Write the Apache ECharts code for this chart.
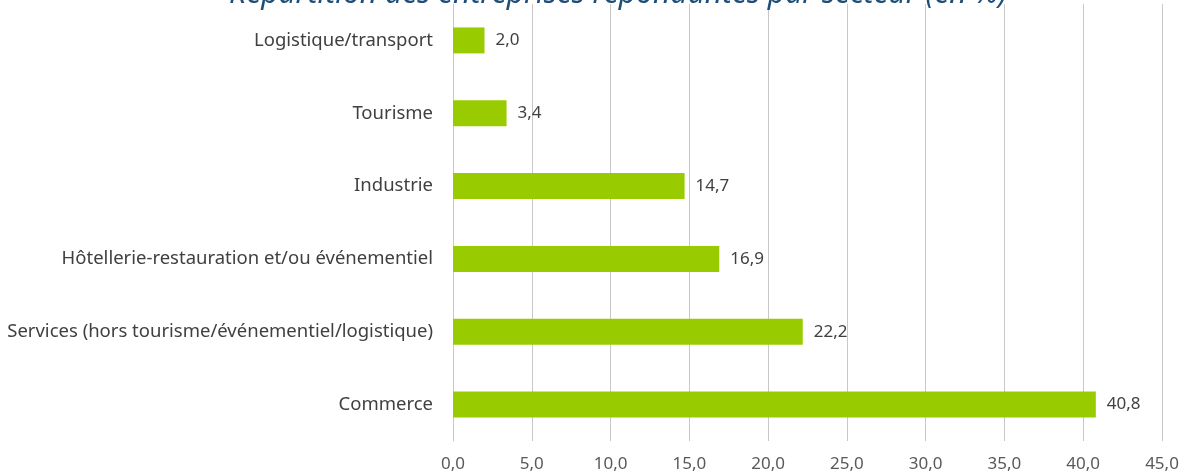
<!DOCTYPE html>
<html><head><meta charset="utf-8">
<script src="https://cdn.jsdelivr.net/npm/echarts@6/dist/echarts.min.js"></script>
<style>html,body{margin:0;padding:0;background:#fff}#c{width:1184px;height:472px}</style>
</head><body><div id="c"></div>
<script>
const categories = ["Commerce","Services (hors tourisme/événementiel/logistique)","Hôtellerie-restauration et/ou événementiel","Industrie","Tourisme","Logistique/transport"];
const values = [40.8, 22.2, 16.9, 14.7, 3.4, 2.0];
const titleText = "Répartition des entreprises répondantes par secteur (en %)";
const fmt = v => Number(v).toFixed(1).replace('.', ',');
const chart = echarts.init(document.getElementById('c'));
chart.setOption({
  animation:false,
  title:{text:titleText,left:613,textAlign:'center',top:-26,textStyle:{fontFamily:'Noto Sans',fontStyle:'italic',fontWeight:'normal',fontSize:30,color:'#1F4E79'}},
  grid:{left:453,right:22,top:4,bottom:31,containLabel:false,outerBoundsMode:'none'},
  xAxis:{type:'value',min:0,max:45,interval:5,
    axisLine:{show:false},axisTick:{show:false},
    splitLine:{lineStyle:{color:'#c8c8c8',width:1}},
    axisLabel:{formatter:fmt,fontFamily:'Noto Sans',fontSize:17,color:'#595959',margin:15}},
  yAxis:{type:'category',data:categories,
    axisLine:{show:true,lineStyle:{color:'#c8c8c8'}},axisTick:{show:false},
    axisLabel:{fontFamily:'Noto Sans',fontSize:18.5,color:'#404040',margin:20}},
  series:[{type:'bar',data:values,barWidth:26,itemStyle:{color:'#99CC00'},
    label:{show:true,position:'right',distance:11,formatter:p=>fmt(p.value),fontFamily:'Noto Sans',fontSize:17,color:'#404040'}}]
});
</script></body></html>
